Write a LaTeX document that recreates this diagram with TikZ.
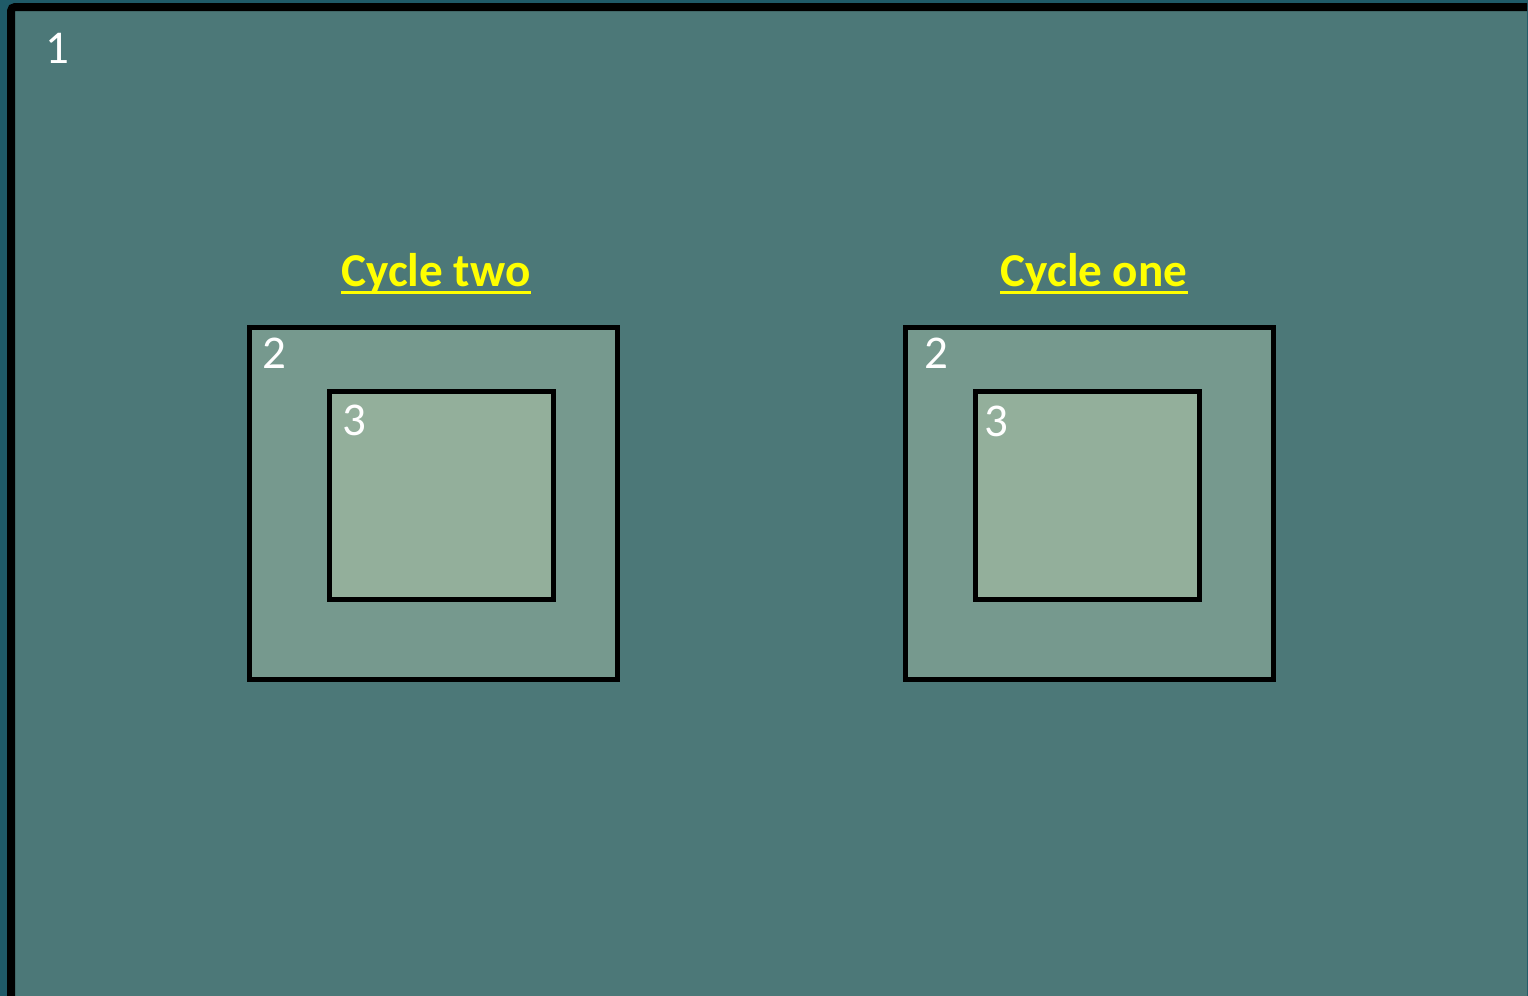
\documentclass[tikz,border=0pt]{standalone}
\usepackage{fontspec}
\setmainfont{Carlito}
\definecolor{outerbg}{HTML}{1F5A68}
\definecolor{mainfill}{HTML}{4C7878}
\definecolor{boxtwo}{HTML}{76998E}
\definecolor{boxthree}{HTML}{93AF9B}
\definecolor{titleyellow}{HTML}{FFFF00}
\tikzset{
  frame/.style={draw=black, line width=4pt, fill=mainfill},
  outerbox/.style={draw=black, line width=2.5pt, fill=boxtwo},
  innerbox/.style={draw=black, line width=2.5pt, fill=boxthree},
  numlabel/.style={text=white, font=\fontsize{23.5}{28}\selectfont, anchor=base, inner sep=0pt},
  cycletitle/.style={text=titleyellow, font=\bfseries\fontsize{23.6}{28}\selectfont, anchor=base, inner sep=0pt},
  uline/.style={draw=titleyellow, line width=1.5pt}
}
\begin{document}
\begin{tikzpicture}[x=0.5pt,y=-0.5pt]
\useasboundingbox (0,0) rectangle (1528,996);
\fill[outerbg] (0,0) rectangle (1528,996);
\begin{scope}
\clip (0,0) rectangle (1527,995);
\draw[frame, rounded corners=2pt] (11,7) rectangle (1560,1030);
\end{scope}
\node[numlabel] (n1) at (57,63) {1};

% Cycle two
\draw[outerbox] (249.5,327) rectangle (617.5,679);
\draw[innerbox] (329.5,391) rectangle (553.5,599);
\node[numlabel] (a2) at (274,368) {2};
\node[numlabel] (a3) at (354,435) {3};
\node[cycletitle] (t2) at (436,286) {Cycle two};
\draw[uline] ([yshift=-3pt]t2.base west) -- ([yshift=-3pt]t2.base east);

% Cycle one
\draw[outerbox] (905,327) rectangle (1273,679);
\draw[innerbox] (975,391) rectangle (1199.5,599);
\node[numlabel] (b2) at (936,368) {2};
\node[numlabel] (b3) at (996,436) {3};
\node[cycletitle] (t1) at (1094,286) {Cycle one};
\draw[uline] ([yshift=-3pt]t1.base west) -- ([yshift=-3pt]t1.base east);
\end{tikzpicture}
\end{document}
